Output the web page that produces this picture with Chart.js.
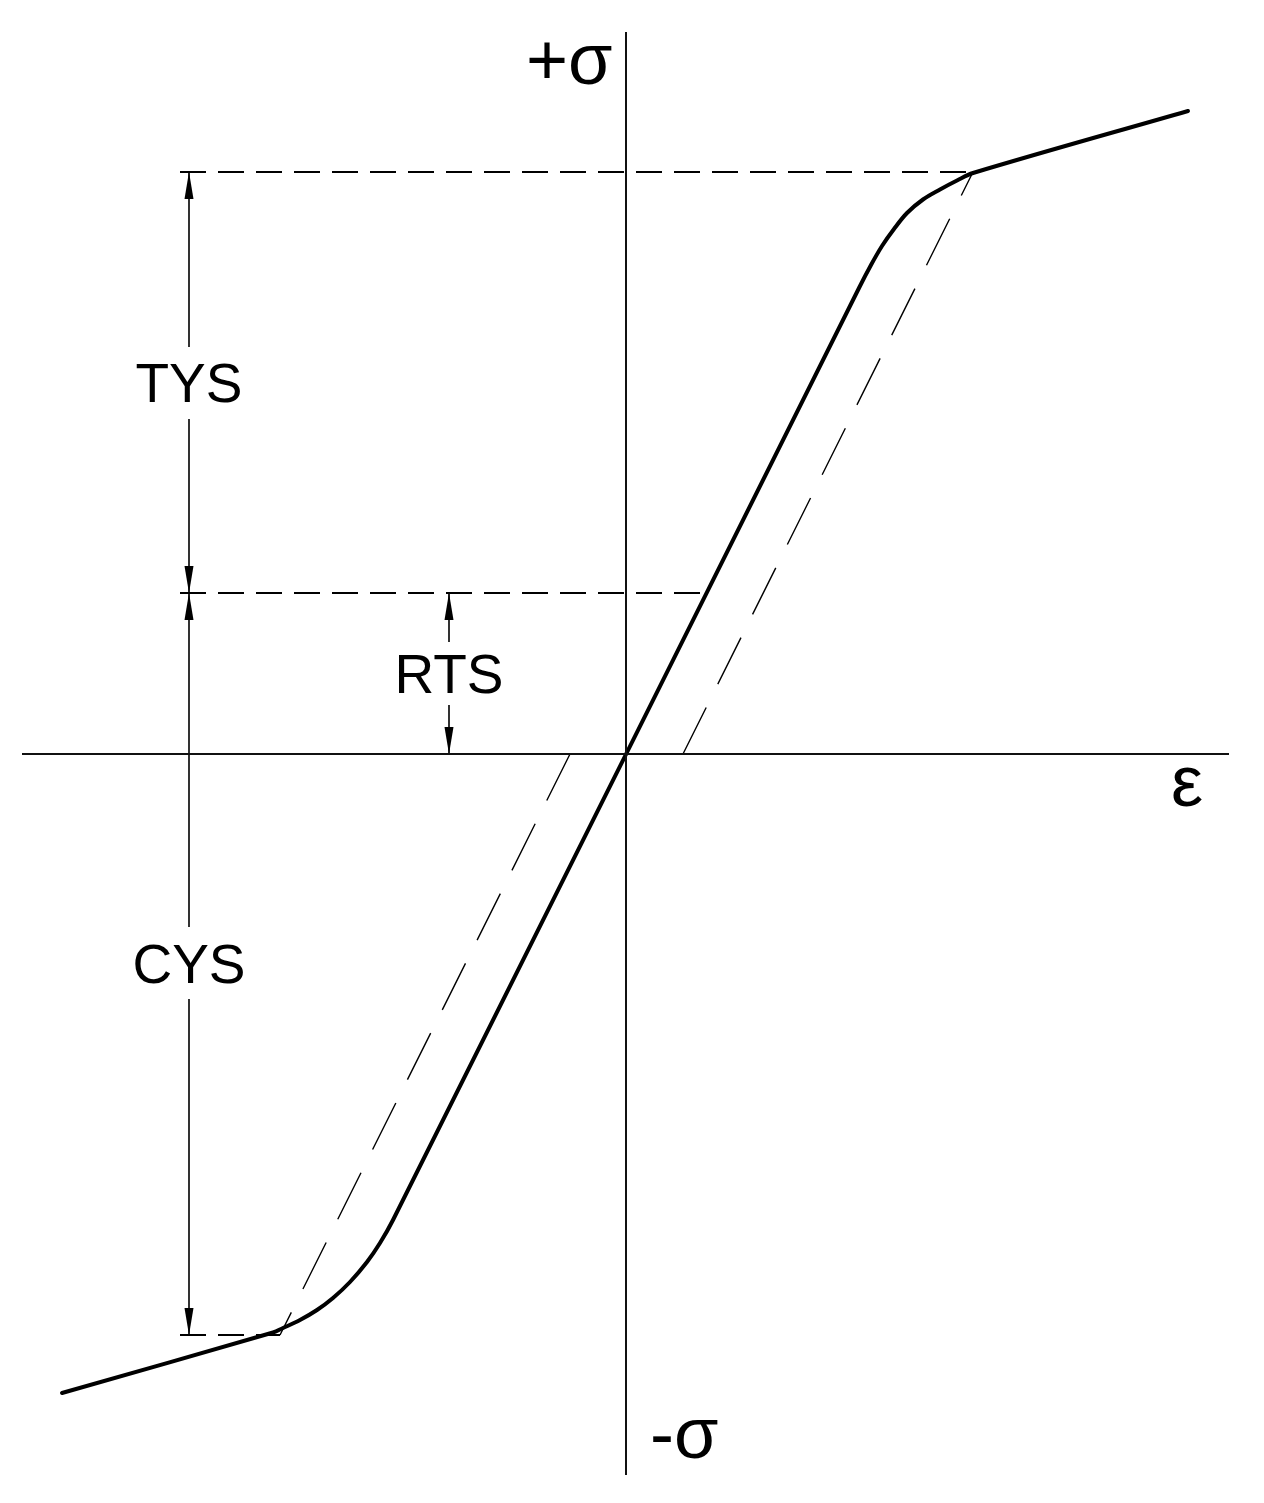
<!DOCTYPE html>
<html>
<head>
<meta charset="utf-8">
<script src="https://cdn.jsdelivr.net/npm/chart.js@4/dist/chart.umd.min.js"></script>
<style>
  html, body { margin: 0; padding: 0; background: #fff; }
  #wrap { width: 1264px; height: 1503px; position: relative; }
</style>
</head>
<body>
<div id="wrap"><canvas id="chart"></canvas></div>
<script>
/* ================= DATA ================= */
// strain (x) / stress (y), arbitrary units, origin where the axes cross
const curveStrain = [-5.64, -3.53, -3.43, -3.26, -3.09, -2.93, -2.76, -2.59, -2.46, -2.33,
                      2.33, 2.45, 2.56, 2.68, 2.81, 2.97, 3.14, 3.31, 3.47, 5.62];
const curveStress = [-6.39, -5.785, -5.74, -5.66, -5.56, -5.44, -5.28, -5.08, -4.89, -4.66,
                      4.66, 4.89, 5.08, 5.25, 5.41, 5.545, 5.645, 5.735, 5.81, 6.43];

// offset (unloading) lines
const offsetUpperStrain = [0.57, 3.47];
const offsetUpperStress = [0, 5.82];
const offsetLowerStrain = [-0.56, -3.46];
const offsetLowerStress = [0, -5.81];

// stress levels
const TYS = 5.82;
const RTS = 1.61;
const CYS = -5.81;
const levelStart = -4.46;
const levelEnds = [3.47, 0.81, -3.46];

// dimension lines
const dimX = -4.37;
const rtsX = -1.77;
const dimSegments = [[5.82, 4.07], [3.35, -1.73], [-2.45, -5.81]];
const rtsSegments = [[1.61, 1.12], [0.49, 0]];

// axes
const strainAxis = [-6.04, 6.03];
const stressAxis = [-7.21, 7.22];

/* ================= HELPERS ================= */
function pts(xs, ys) {
  return xs.map((x, i) => ({ x: x, y: ys[i] }));
}

function line(data, width, dash, extra) {
  return Object.assign({
    data: data,
    borderColor: "#000",
    borderWidth: width,
    borderDash: dash || [],
    pointRadius: 0,
    tension: 0,
    fill: false
  }, extra || {});
}

const datasets = [];

/* ----- axes ----- */
datasets.push(line(pts(strainAxis, [0, 0]), 2, null, { borderColor: "#111" }));
datasets.push(line(pts([0, 0], stressAxis), 2, null, { borderColor: "#111" }));

/* ----- dashed levels ----- */
[TYS, RTS, CYS].forEach((lvl, i) => {
  datasets.push(line(pts([levelStart, levelEnds[i]], [lvl, lvl]), 1.8, [26, 12]));
});

/* ----- offset lines ----- */
datasets.push(line(pts(offsetUpperStrain, offsetUpperStress), 1.4, [52, 26]));
datasets.push(line(pts(offsetLowerStrain, offsetLowerStress), 1.4, [52, 26]));

/* ----- dimension lines ----- */
dimSegments.forEach(s => datasets.push(line(pts([dimX, dimX], s), 1.6)));
rtsSegments.forEach(s => datasets.push(line(pts([rtsX, rtsX], s), 1.6)));

/* ----- stress-strain curve ----- */
datasets.push(line(pts(curveStrain, curveStress), 4, null, {
  borderCapStyle: "round",
  borderJoinStyle: "round",
  tension: 0.35
}));

/* ================= ANNOTATIONS ================= */
const arrows = [
  { x: dimX, y: TYS, up: true },
  { x: dimX, y: RTS, up: false },
  { x: dimX, y: RTS, up: true },
  { x: dimX, y: CYS, up: false },
  { x: rtsX, y: RTS, up: true },
  { x: rtsX, y: 0, up: false }
];

const texts = [
  { text: "TYS", x: dimX, y: 3.52, size: 55, align: "center" },
  { text: "RTS", x: rtsX, y: 0.61, size: 55, align: "center" },
  { text: "CYS", x: dimX, y: -2.29, size: 55, align: "center" },
  { text: "+σ", x: -1.00, y: 6.70, size: 72, align: "left" },
  { text: "-σ", x: 0.24, y: -7.04, size: 72, align: "left" },
  { text: "ε", x: 5.45, y: -0.52, size: 72, align: "left" }
];

const annotate = {
  id: "annotate",
  afterDatasetsDraw(c) {
    const ctx = c.ctx;
    const sx = c.scales.x;
    const sy = c.scales.y;
    ctx.save();
    ctx.fillStyle = "#000";

    arrows.forEach(a => {
      const px = sx.getPixelForValue(a.x);
      const py = sy.getPixelForValue(a.y);
      const len = a.up ? 27 : -27;
      ctx.beginPath();
      ctx.moveTo(px, py);
      ctx.lineTo(px - 4.5, py + len);
      ctx.lineTo(px + 4.5, py + len);
      ctx.closePath();
      ctx.fill();
    });

    ctx.textBaseline = "alphabetic";
    texts.forEach(t => {
      ctx.font = t.size + 'px "Liberation Sans", Arial, sans-serif';
      ctx.textAlign = t.align;
      ctx.fillText(t.text, sx.getPixelForValue(t.x), sy.getPixelForValue(t.y));
    });
    ctx.restore();
  }
};

/* ================= CHART ================= */
new Chart(document.getElementById("chart"), {
  type: "line",
  data: { datasets: datasets },
  options: {
    responsive: true,
    maintainAspectRatio: false,
    animation: false,
    parsing: false,
    layout: { padding: 0 },
    plugins: {
      legend: { display: false },
      tooltip: { enabled: false }
    },
    scales: {
      x: { type: "linear", min: -6.26, max: 6.38, display: false },
      y: { type: "linear", min: -7.49, max: 7.54, display: false }
    }
  },
  plugins: [annotate]
});
</script>
</body>
</html>
